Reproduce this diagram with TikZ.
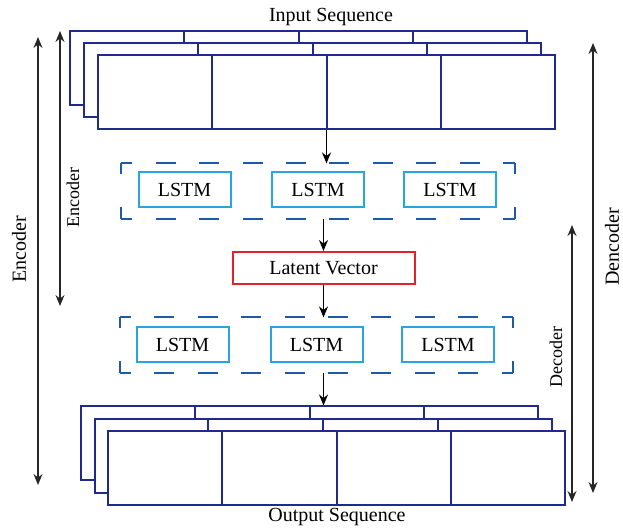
\documentclass[tikz,border=0pt]{standalone}
\usepackage{fontspec}
\setmainfont{Liberation Serif}
\usetikzlibrary{arrows.meta,calc}

\definecolor{seqblue}{RGB}{32,42,140}
\definecolor{dashblue}{RGB}{30,90,170}
\definecolor{lstmblue}{RGB}{40,165,225}
\definecolor{latentred}{RGB}{228,32,42}

\tikzset{
  seqlayer/.style={draw=seqblue, line width=1pt, fill=white, minimum width=228.5pt, minimum height=37pt, inner sep=0pt, anchor=north west},
  seqline/.style={draw=seqblue, line width=1pt},
  groupbox/.style={inner sep=0pt},
  hdash/.style={draw=dashblue, line width=1pt, dash pattern=on 10pt off 11.7pt, dash phase=4.5pt},
  vdash/.style={draw=dashblue, line width=1pt, dash pattern=on 10pt off 16.2pt, dash phase=4.5pt},
  lstm/.style={draw=lstmblue, line width=1pt, minimum width=46pt, minimum height=17.5pt, inner sep=0pt, font=\fontsize{10}{12}\selectfont},
  latent/.style={draw=latentred, line width=1pt, minimum width=91pt, minimum height=16pt, inner sep=0pt, font=\fontsize{10}{12}\selectfont},
  flow/.style={draw=black, line width=0.7pt, -{Stealth[length=5.5pt,width=4.5pt]}},
  span/.style={draw=black!85, line width=0.7pt, {Stealth[length=5.5pt,width=4.5pt]}-{Stealth[length=5.5pt,width=4.5pt]}},
  biglabel/.style={rotate=90, font=\fontsize{10}{12}\selectfont},
  smalllabel/.style={rotate=90, font=\fontsize{9}{11}\selectfont}
}

\begin{document}
\begin{tikzpicture}[x=0.5pt, y=-0.5pt]
    \useasboundingbox (0,0) rectangle (623,529);

    % input sequence stack
    \foreach \i/\dx/\dy in {0/0/0,1/14/12,2/28/24} {
        \node[seqlayer] (in\i) at (69+\dx,30+\dy) {};
        \foreach \k in {1,2,3}
            \draw[seqline] ($(in\i.north west)!\k/4!(in\i.north east)$) -- ($(in\i.south west)!\k/4!(in\i.south east)$);
    }
    \node[font=\fontsize{10}{12}\selectfont] (intitle) at (331,17) {Input Sequence};

    % encoder group
    \node[groupbox, minimum width=196.3pt, minimum height=27.2pt] (encbox) at (318,191) {};
    \node[lstm] (enc1) at (184.5,190) {LSTM};
    \node[lstm] (enc2) at (318,190) {LSTM};
    \node[lstm] (enc3) at (450,190) {LSTM};

    \node[latent] (latent) at (323.5,268) {Latent Vector};

    % decoder group
    \node[groupbox, minimum width=196.3pt, minimum height=27.2pt] (decbox) at (316.7,345) {};
    \node[lstm] (dec1) at (182.5,344.5) {LSTM};
    \node[lstm] (dec2) at (316.5,344.5) {LSTM};
    \node[lstm] (dec3) at (448,344.5) {LSTM};

    % dashed frames, side by side so every corner gets its bracket
    \foreach \b in {encbox,decbox} {
        \draw[hdash] (\b.north west) -- (\b.north east);
        \draw[hdash] (\b.south west) -- (\b.south east);
        \draw[vdash] (\b.north west) -- (\b.south west);
        \draw[vdash] (\b.north east) -- (\b.south east);
    }

    % output sequence stack
    \foreach \i/\dx/\dy in {0/0/0,1/13.5/12.5,2/27/25} {
        \node[seqlayer] (out\i) at (80+\dx,405.5+\dy) {};
        \foreach \k in {1,2,3}
            \draw[seqline] ($(out\i.north west)!\k/4!(out\i.north east)$) -- ($(out\i.south west)!\k/4!(out\i.south east)$);
    }
    \node[font=\fontsize{10}{12}\selectfont] (outtitle) at (337,517) {Output Sequence};

    % main flow
    \draw[flow] (in2.south) -- (in2.south |- encbox.north);
    \draw[flow] (latent.north |- encbox.south) -- (latent.north);
    \draw[flow] (latent.south) -- (latent.south |- decbox.north);
    \draw[flow] (latent.south |- decbox.south) -- (latent.south |- out0.north);

    % side spans
    \coordinate (encouterT) at (38,37);
    \coordinate (encouterB) at (38,485);
    \coordinate (encinnerT) at (60,31);
    \coordinate (encinnerB) at (60,306);
    \coordinate (decouterT) at (593,43);
    \coordinate (decouterB) at (593,493);
    \coordinate (decinnerT) at (572,225);
    \coordinate (decinnerB) at (572,502);
    \draw[span] (encouterT) -- (encouterB);
    \draw[span] (encinnerT) -- (encinnerB);
    \draw[span] (decouterT) -- (decouterB);
    \draw[span] (decinnerT) -- (decinnerB);
    \node[biglabel] (encouterlabel) at (19,249) {Encoder};
    \node[smalllabel] (encinnerlabel) at (73,198) {Encoder};
    \node[biglabel] (decouterlabel) at (612,247) {Dencoder};
    \node[smalllabel] (decinnerlabel) at (556,357) {Decoder};
\end{tikzpicture}
\end{document}
